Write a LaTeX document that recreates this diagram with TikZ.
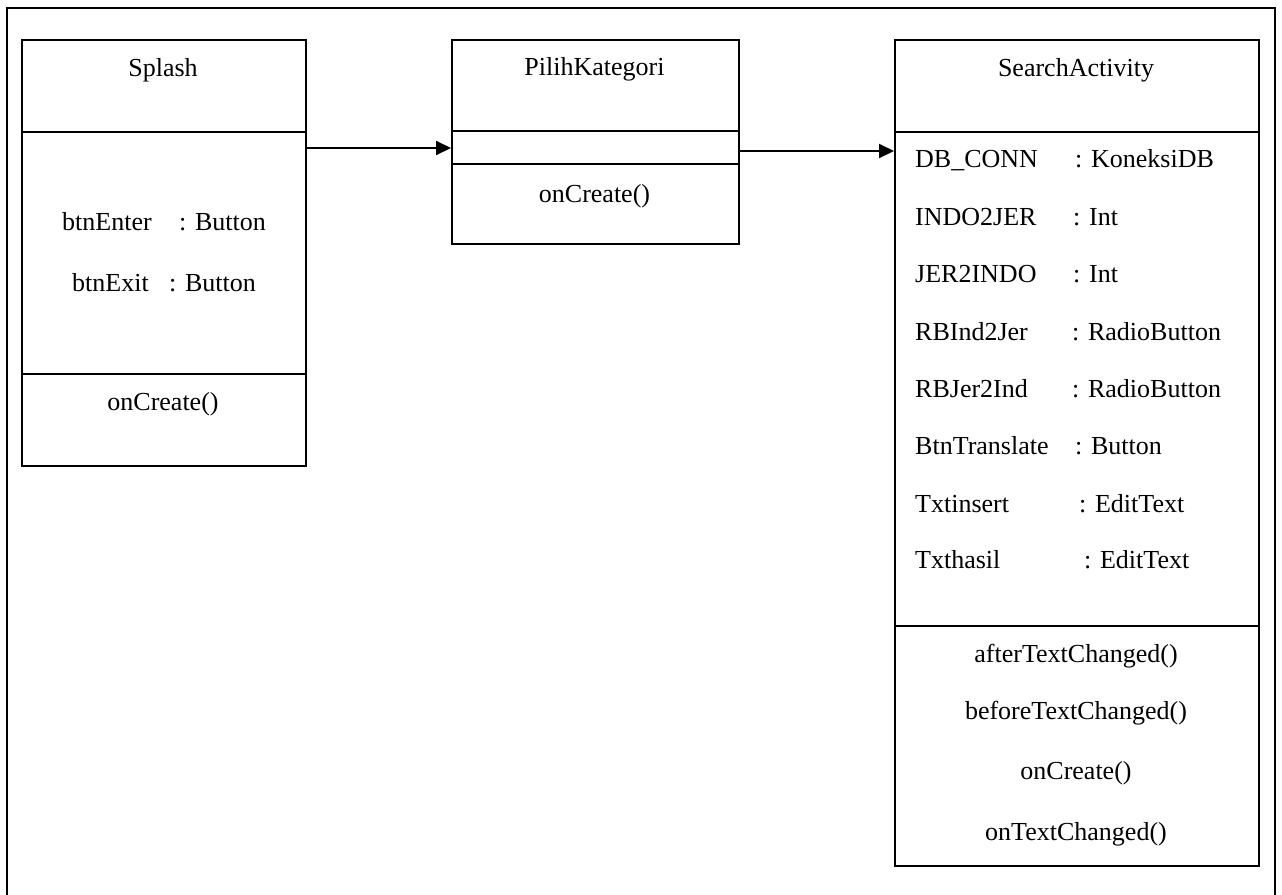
\documentclass[tikz,border=0pt]{standalone}
\usepackage{fontspec}
\setmainfont{Liberation Serif}
\usetikzlibrary{arrows.meta}
\begin{document}
\begin{tikzpicture}[x=1pt,y=-1pt,
  frame/.style={draw=black,line width=1.5pt},
  classbox/.style={draw=black,line width=1.5pt,inner sep=0pt,anchor=north west},
  divider/.style={draw=black,line width=1.5pt},
  txt/.style={inner sep=0pt,font=\fontsize{26}{30}\selectfont},
  lbl/.style={txt,anchor=base west},
  ctr/.style={txt,anchor=base},
  assoc/.style={draw=black,line width=2pt,-{Triangle[length=15pt,width=14pt]}}]
\useasboundingbox (0,0) rectangle (1282,894);
\fill[white] (0,0) rectangle (1282,894);
% outer frame, open at the bottom edge
\draw[frame] (7,895) -- (7,8) -- (1275,8) -- (1275,895);

% class boxes
\node[classbox,minimum width=284pt,minimum height=426pt] (splash) at (21,39) {};
\node[classbox,minimum width=287pt,minimum height=204pt] (pilih) at (451,39) {};
\node[classbox,minimum width=364pt,minimum height=826pt] (search) at (894,39) {};

% compartment lines
\draw[divider] (21,132) -- (305,132);
\draw[divider] (21,374) -- (305,374);
\draw[divider] (451,131) -- (738,131);
\draw[divider] (451,164) -- (738,164);
\draw[divider] (894,132) -- (1258,132);
\draw[divider] (894,626) -- (1258,626);

% Splash
\node[ctr] (splashT) at (163,76) {Splash};
\node[lbl] (sa1) at (62,230) {btnEnter};
\node[lbl] (sa1t) at (179,230) {: Button};
\node[lbl] (sa2) at (72,291) {btnExit};
\node[lbl] (sa2t) at (169,291) {: Button};
\node[ctr] (sm1) at (163,410) {onCreate()};

% PilihKategori
\node[ctr] (pilihT) at (594.5,75) {PilihKategori};
\node[ctr] (pm1) at (594.5,202) {onCreate()};

% SearchActivity
\node[ctr] (searchT) at (1076,76) {SearchActivity};
\node[lbl] (a1) at (915,167) {DB\_CONN};
\node[lbl] (a1t) at (1075,167) {: KoneksiDB};
\node[lbl] (a2) at (915,225) {INDO2JER};
\node[lbl] (a2t) at (1073,225) {: Int};
\node[lbl] (a3) at (915,282) {JER2INDO};
\node[lbl] (a3t) at (1073,282) {: Int};
\node[lbl] (a4) at (915,340) {RBInd2Jer};
\node[lbl] (a4t) at (1072,340) {: RadioButton};
\node[lbl] (a5) at (915,397) {RBJer2Ind};
\node[lbl] (a5t) at (1072,397) {: RadioButton};
\node[lbl] (a6) at (915,454) {BtnTranslate};
\node[lbl] (a6t) at (1075,454) {: Button};
\node[lbl] (a7) at (915,512) {Txtinsert};
\node[lbl] (a7t) at (1079,512) {: EditText};
\node[lbl] (a8) at (915,568) {Txthasil};
\node[lbl] (a8t) at (1084,568) {: EditText};
\node[ctr] (m1) at (1076,662) {afterTextChanged()};
\node[ctr] (m2) at (1076,719) {beforeTextChanged()};
\node[ctr] (m3) at (1076,779) {onCreate()};
\node[ctr] (m4) at (1076,840) {onTextChanged()};

% associations
\draw[assoc] (splash.east |- 0,148) -- (pilih.west |- 0,148);
\draw[assoc] (pilih.east |- 0,151) -- (search.west |- 0,151);
\end{tikzpicture}
\end{document}
